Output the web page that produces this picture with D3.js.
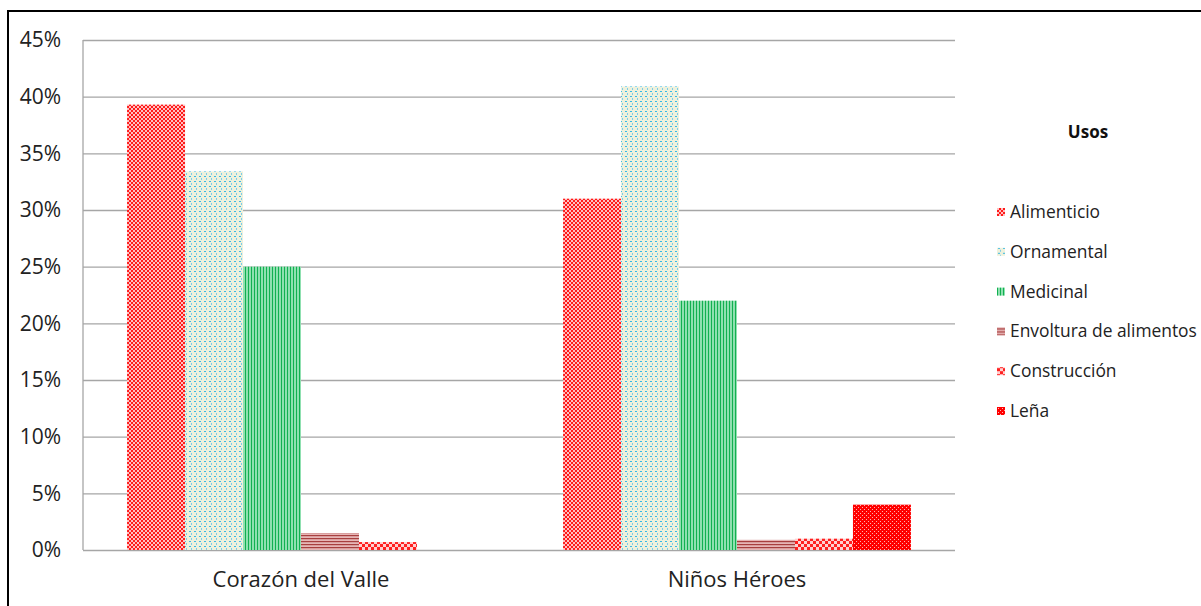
<!DOCTYPE html>
<html>
<head>
<meta charset="utf-8">
<script src="https://cdn.jsdelivr.net/npm/d3@7"></script>
<style>
  body { margin: 0; background: #fff; }
  svg { display: block; font-family: "Open Sans", "Noto Sans", sans-serif; }
</style>
</head>
<body>
<div id="chart"></div>
<script>
// categories and series
const categories = ["Corazón del Valle", "Niños Héroes"];
const series = ["Alimenticio", "Ornamental", "Medicinal", "Envoltura de alimentos", "Construcción", "Leña"];
// values in percent, one array per series (same order as categories)
const alimenticio = [39.3, 31.0];
const ornamental = [33.4, 40.9];
const medicinal = [25.0, 22.0];
const envoltura = [1.5, 0.9];
const construccion = [0.7, 1.0];
const lena = [0.0, 4.0];
const yTicks = [0, 5, 10, 15, 20, 25, 30, 35, 40, 45];
const legendTitle = "Usos";

const seriesValues = [alimenticio, ornamental, medicinal, envoltura, construccion, lena];

const FONT = "'Open Sans', 'Noto Sans', sans-serif";
const W = 1201, H = 606;
const margin = {left: 83, right: 246, top: 40, bottom: 56};
const pw = W - margin.left - margin.right;
const ph = H - margin.top - margin.bottom;

let svg = d3.select("#chart").append("svg")
    .attr("width", W)
    .attr("height", H);

/**
 * Fill patterns that mimic the Excel hatches
 */
let defs = svg.append("defs");

function checker(id, size, bg, fg) {
    let p = defs.append("pattern").attr("id", id)
        .attr("patternUnits", "userSpaceOnUse")
        .attr("width", size * 2).attr("height", size * 2);
    p.append("rect").attr("width", size * 2).attr("height", size * 2).attr("fill", bg);
    p.append("rect").attr("x", 0).attr("y", 0).attr("width", size).attr("height", size).attr("fill", fg);
    p.append("rect").attr("x", size).attr("y", size).attr("width", size).attr("height", size).attr("fill", fg);
}
checker("pat0", 2, "#ff1a1a", "#ffc0c0");
checker("pat4", 3, "#ff2020", "#ffd0d0");

// ornamental: pale with blue specks
let p1 = defs.append("pattern").attr("id", "pat1")
    .attr("patternUnits", "userSpaceOnUse").attr("width", 5).attr("height", 5);
p1.append("rect").attr("width", 5).attr("height", 5).attr("fill", "#eef1dc");
p1.append("rect").attr("x", 1).attr("y", 1).attr("width", 2).attr("height", 1).attr("fill", "#38b8e4");
p1.append("rect").attr("x", 3).attr("y", 3).attr("width", 1).attr("height", 2).attr("fill", "#7ccce8");

// medicinal: vertical green stripes
let p2 = defs.append("pattern").attr("id", "pat2")
    .attr("patternUnits", "userSpaceOnUse").attr("width", 3).attr("height", 3);
p2.append("rect").attr("width", 3).attr("height", 3).attr("fill", "#8fe0b0");
p2.append("rect").attr("x", 0).attr("width", 1).attr("height", 3).attr("fill", "#12b050");

// envoltura: horizontal brown stripes
let p3 = defs.append("pattern").attr("id", "pat3")
    .attr("patternUnits", "userSpaceOnUse").attr("width", 3).attr("height", 3);
p3.append("rect").attr("width", 3).attr("height", 3).attr("fill", "#e6b6b6");
p3.append("rect").attr("y", 0).attr("width", 3).attr("height", 1.2).attr("fill", "#a84040");

// leña: red with small white dots
let p5 = defs.append("pattern").attr("id", "pat5")
    .attr("patternUnits", "userSpaceOnUse").attr("width", 4).attr("height", 4);
p5.append("rect").attr("width", 4).attr("height", 4).attr("fill", "#ff0000");
p5.append("rect").attr("x", 1).attr("y", 1).attr("width", 1).attr("height", 1).attr("fill", "#ffb0b0");
p5.append("rect").attr("x", 3).attr("y", 3).attr("width", 1).attr("height", 1).attr("fill", "#ffb0b0");

// frame lines (left and top)
svg.append("line").attr("x1", 8).attr("y1", 11).attr("x2", W).attr("y2", 11)
    .attr("stroke", "#000").attr("stroke-width", 2);
svg.append("line").attr("x1", 8).attr("y1", 10).attr("x2", 8).attr("y2", H)
    .attr("stroke", "#000").attr("stroke-width", 2);

let g = svg.append("g").attr("transform", "translate(" + margin.left + "," + margin.top + ")");

let y = d3.scaleLinear().domain([0, 45]).range([ph, 0]);
let x0 = d3.scaleBand().domain(categories).range([0, pw]).padding(0);
let x1 = d3.scaleBand().domain(series).range([0, x0.bandwidth()])
    .paddingInner(0).paddingOuter(0.76);

// gridlines + y labels
let yAxis = g.append("g")
    .call(d3.axisLeft(y).tickValues(yTicks).tickSize(-pw).tickFormat(d => d + "%"));
yAxis.select(".domain").remove();
yAxis.selectAll(".tick line").attr("stroke", "#a6a6a6").attr("stroke-width", 1.3);
yAxis.selectAll(".tick text")
    .attr("x", -22)
    .attr("fill", "#222")
    .style("font-family", FONT)
    .style("font-size", "21px");

g.append("line").attr("x1", 0).attr("x2", 0).attr("y1", 0).attr("y2", ph)
    .attr("stroke", "#a6a6a6").attr("stroke-width", 1.3);

// bars
let groups = g.selectAll(".grp").data(categories).enter().append("g")
    .attr("transform", d => "translate(" + x0(d) + ",0)");

groups.selectAll("rect")
    .data((c, ci) => series.map((s, si) => ({s: s, si: si, v: seriesValues[si][ci]})))
    .enter().append("rect")
    .attr("x", d => x1(d.s))
    .attr("y", d => y(d.v))
    .attr("width", x1.bandwidth())
    .attr("height", d => ph - y(d.v))
    .attr("fill", d => "url(#pat" + d.si + ")");

// category labels
let xAxis = g.append("g").attr("transform", "translate(0," + ph + ")")
    .call(d3.axisBottom(x0).tickSize(0).tickPadding(21));
xAxis.select(".domain").remove();
xAxis.selectAll(".tick text")
    .attr("fill", "#222")
    .style("font-family", FONT)
    .style("font-size", "22px");

// legend
let legend = svg.append("g").attr("transform", "translate(997,0)");
legend.append("text")
    .attr("x", 91).attr("y", 138)
    .attr("text-anchor", "middle")
    .style("font-weight", "bold")
    .style("font-size", "17px")
    .attr("fill", "#111")
    .text(legendTitle);

let items = legend.selectAll(".item").data(series).enter().append("g")
    .attr("transform", (d, i) => "translate(0," + (212 + i * 39.8) + ")");
items.append("rect")
    .attr("x", 0).attr("y", -4).attr("width", 8).attr("height", 8)
    .attr("fill", (d, i) => "url(#pat" + i + ")");
items.append("text")
    .attr("x", 13).attr("y", 0).attr("dy", "0.35em")
    .style("font-size", "17.4px")
    .attr("fill", "#222")
    .text(d => d);
</script>
</body>
</html>
